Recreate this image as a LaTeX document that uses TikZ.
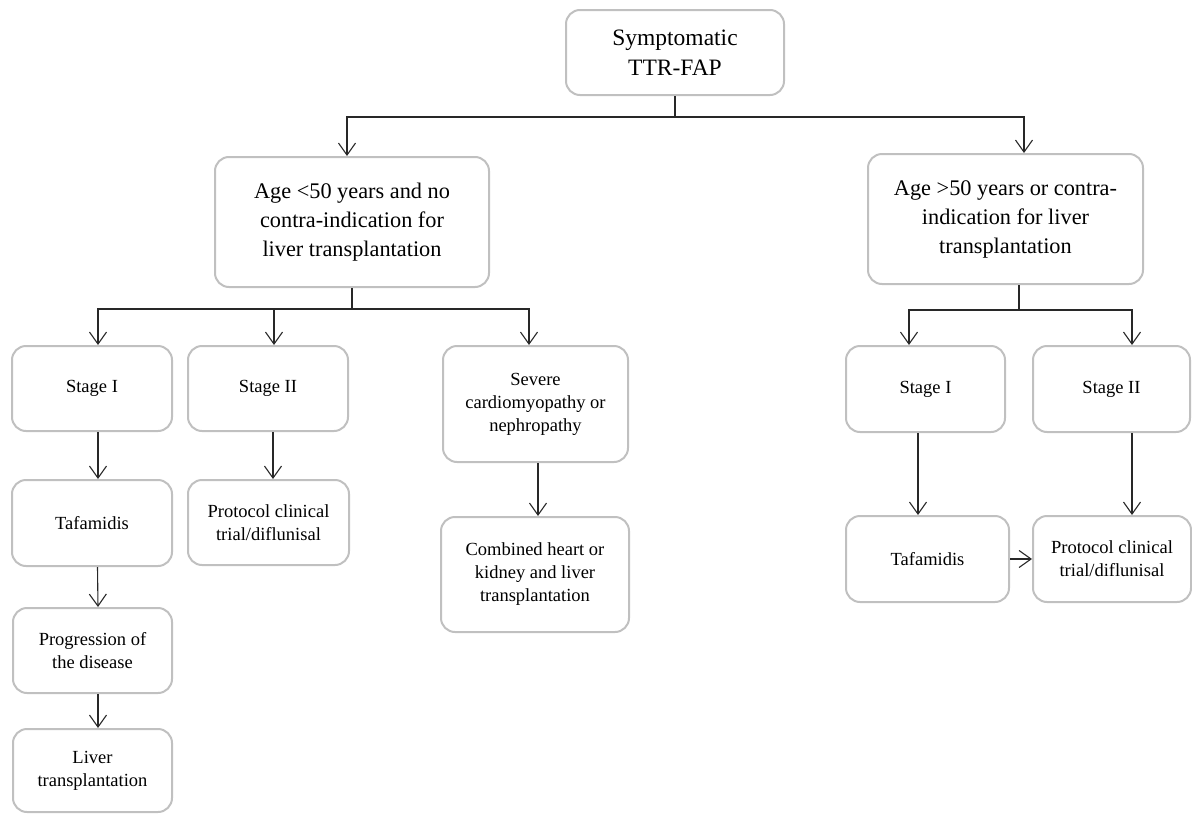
\documentclass[tikz,border=0pt]{standalone}
\usepackage{fontspec}
\setmainfont{Liberation Serif}
\usepackage{tikz}
\usetikzlibrary{positioning}
\usetikzlibrary{arrows.meta}
\definecolor{boxgray}{RGB}{192,192,192}
\definecolor{linegray}{RGB}{40,40,40}
\tikzset{box/.style={draw=boxgray, line width=2pt, rounded corners=14pt, align=center, inner sep=0pt, font=\fontsize{18.5}{23}\selectfont}}
\tikzset{bigbox/.style={box, font=\fontsize{22.3}{29}\selectfont}}
\tikzset{arr/.style={draw=linegray, line width=1.1pt, -{Straight Barb[length=12pt,width=17pt]}}}

\begin{document}
\begin{tikzpicture}[x=1pt,y=-1pt]
\useasboundingbox (0,0) rectangle (1192,814);
\node[bigbox, minimum width=218, minimum height=85, font=\fontsize{23.5}{29.7}\selectfont] (top) at (675,52.5) {Symptomatic\\TTR-FAP};
\node[bigbox, minimum width=274, minimum height=130] (young) at (352,222) {Age <50 years and no\\contra-indication for\\liver transplantation};
\node[bigbox, minimum width=275, minimum height=130] (old) at (1005.5,219) {Age >50 years or contra-\\indication for liver\\transplantation};
% left branch
\node[box, minimum width=160, minimum height=85] (stageA) at (92,388.5) {Stage I};
\node[box, minimum width=160, minimum height=85] (stageB) at (268,388.5) {Stage II};
\node[box, minimum width=185, minimum height=116] (severe) at (535.5,404) {Severe\\cardiomyopathy or\\nephropathy};
\node[box, minimum width=160, minimum height=86] (tafA) at (92,523) {Tafamidis};
\node[box, minimum width=161, minimum height=85] (protA) at (268.5,522.5) {Protocol clinical\\trial/diflunisal};
\node[box, minimum width=188, minimum height=115] (combined) at (535,574.5) {Combined heart or\\kidney and liver\\transplantation};
\node[box, minimum width=159, minimum height=85] (prog) at (92.5,650.5) {Progression of\\the disease};
\node[box, minimum width=159, minimum height=83] (liver) at (92.5,770.5) {Liver\\transplantation};
% right branch
\node[box, minimum width=159, minimum height=86] (stageC) at (925.5,389) {Stage I};
\node[box, minimum width=157, minimum height=86] (stageD) at (1111.5,389) {Stage II};
\node[box, minimum width=163, minimum height=86] (tafB) at (927.5,559) {Tafamidis};
\node[box, minimum width=158, minimum height=86] (protB) at (1112,559) {Protocol clinical\\trial/diflunisal};
% connectors
\draw[arr] (top.south) -- ++(0,21) -| ([xshift=-5]young.north);
\draw[arr] (top.south) -- ++(0,21) -| ([xshift=18.5]old.north);
\draw[arr] (young.south) -- ++(0,21) -| ([xshift=6]stageA.north);
\draw[arr] (young.south) -- ++(0,21) -| ([xshift=6]stageB.north);
\draw[arr] (young.south) -- ++(0,21) -| ([xshift=-6.5]severe.north);
\draw[arr] ([xshift=13.5]old.south) -- ++(0,25) -| ([xshift=-16.5]stageC.north);
\draw[arr] ([xshift=13.5]old.south) -- ++(0,25) -| ([xshift=20.5]stageD.north);
\draw[arr] ([xshift=6]stageA.south) -- ([xshift=6]tafA.north);
\draw[arr] ([xshift=5.5]tafA.south) -- ([xshift=5.5]prog.north);
\draw[arr] ([xshift=5.5]prog.south) -- ([xshift=5.5]liver.north);
\draw[arr] ([xshift=5]stageB.south) -- ([xshift=4.5]protA.north);
\draw[arr] ([xshift=2.5]severe.south) -- ([xshift=3]combined.north);
\draw[arr] ([xshift=-7.5]stageC.south) -- ([xshift=-9.5]tafB.north);
\draw[arr] ([xshift=20.5]stageD.south) -- ([xshift=20]protB.north);
\draw[arr] (tafB.east) -- (protB.west);
\end{tikzpicture}
\end{document}
